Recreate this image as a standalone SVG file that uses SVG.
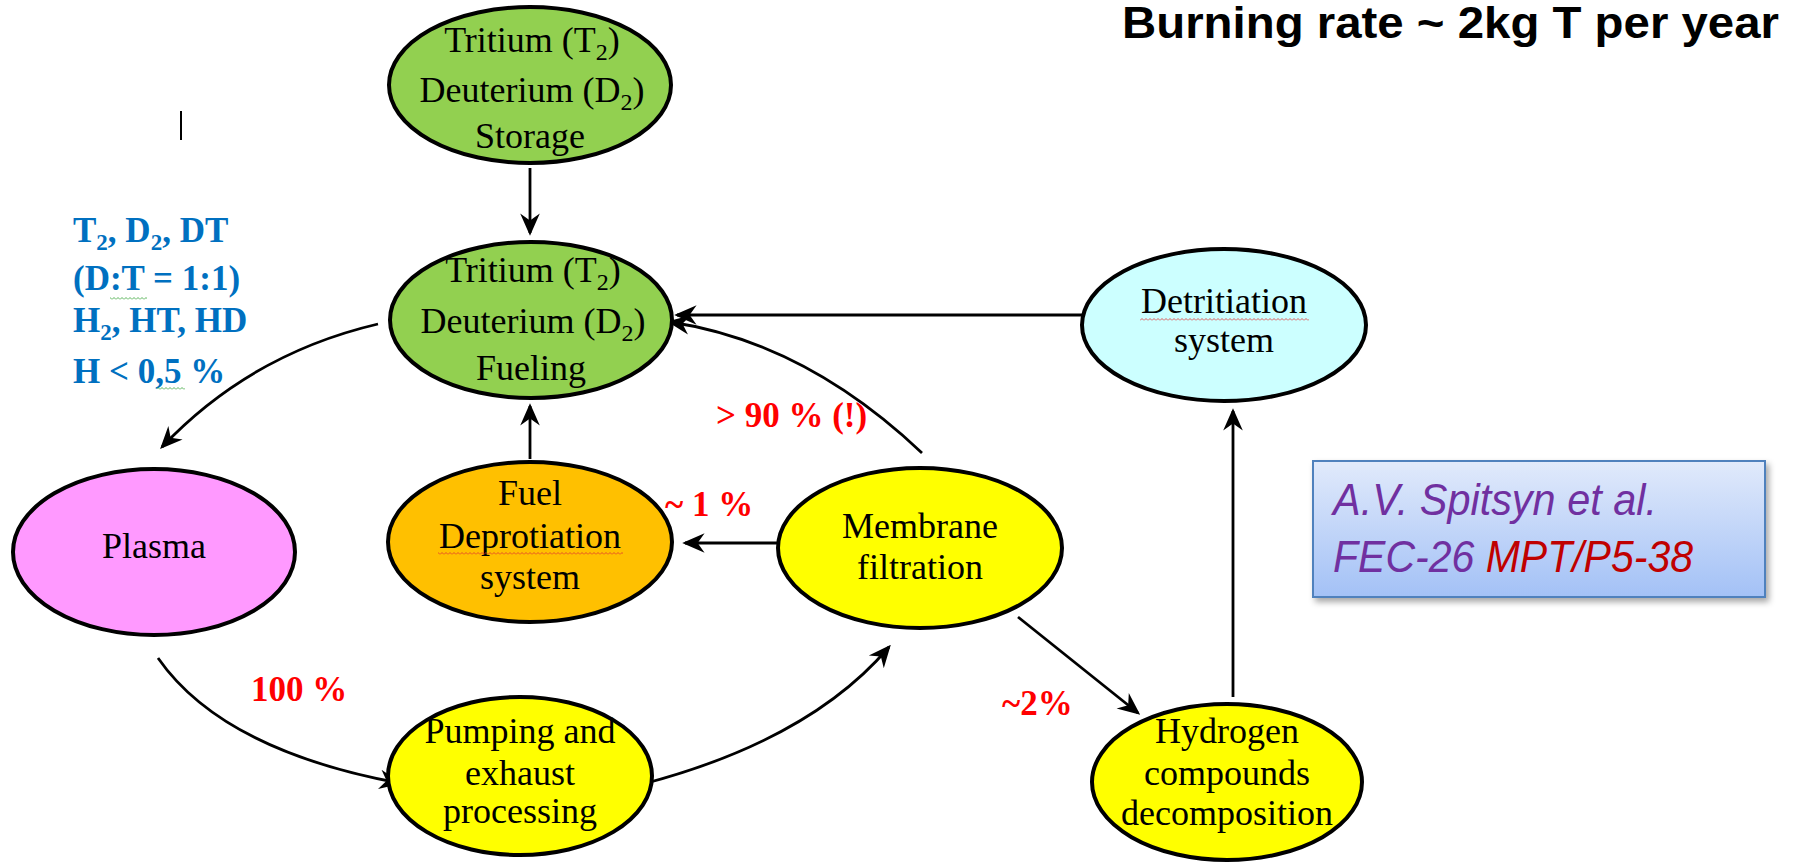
<svg xmlns="http://www.w3.org/2000/svg" width="1803" height="865" viewBox="0 0 1803 865">
<style>
.node{stroke:#000;stroke-width:4}
.t{font-family:"Liberation Serif","Times New Roman",serif;font-size:36px;fill:#000;text-anchor:middle}
.sub{font-size:24px}
.red{font-family:"Liberation Serif","Times New Roman",serif;font-size:35px;font-weight:bold;fill:#FF0000}
.blue{font-family:"Liberation Serif","Times New Roman",serif;font-size:35px;font-weight:bold;fill:#0070C0}
.conn{fill:none;stroke:#000;stroke-width:2.8;marker-end:url(#arr)}
</style>
<defs>
<marker id="arr" markerWidth="8" markerHeight="8" refX="7" refY="4" orient="auto" markerUnits="strokeWidth" viewBox="0 0 8 8">
<path d="M0,0.5 L8,4 L0,7.5 L2.5,4 Z" fill="#000"/>
</marker>
<linearGradient id="boxg" x1="0" y1="0" x2="0" y2="1">
<stop offset="0" stop-color="#E1EAFB"/>
<stop offset="1" stop-color="#A3C1F6"/>
</linearGradient>
<filter id="sh" x="-5%" y="-10%" width="115%" height="130%">
<feDropShadow dx="3" dy="4" stdDeviation="3" flood-color="#000" flood-opacity="0.35"/>
</filter>
<pattern id="wr" width="4" height="3" patternUnits="userSpaceOnUse"><path d="M0,2.5 L2,0.5 L4,2.5" fill="none" stroke="#E03030" stroke-width="0.8"/></pattern>
<pattern id="wg" width="4" height="3" patternUnits="userSpaceOnUse"><path d="M0,2.5 L2,0.5 L4,2.5" fill="none" stroke="#30A030" stroke-width="0.8"/></pattern>
</defs>
<rect width="1803" height="865" fill="#fff"/>

<g id="title">
<text x="1779" y="38" font-family="'Liberation Sans',Arial,sans-serif" font-size="45" font-weight="bold" text-anchor="end" textLength="657" lengthAdjust="spacingAndGlyphs">Burning rate ~ 2kg T per year</text>
</g>

<g id="mark"><line x1="181" y1="111" x2="181" y2="140" stroke="#000" stroke-width="2"/></g>

<g id="gas-list">
<text class="blue" x="73" y="242">T<tspan font-size="23" dy="8">2</tspan><tspan dy="-8">, D</tspan><tspan font-size="23" dy="8">2</tspan><tspan dy="-8">, DT</tspan></text>
<text class="blue" x="73" y="290">(D:T = 1:1)</text>
<text class="blue" x="73" y="332">H<tspan font-size="23" dy="8">2</tspan><tspan dy="-8">, HT, HD</tspan></text>
<text class="blue" x="73" y="383">H &lt; 0,5 %</text>
<rect x="110" y="297" width="37" height="3" fill="url(#wg)"/>
<rect x="157" y="387" width="28" height="3" fill="url(#wg)"/>
</g>

<g id="connectors">
<path class="conn" d="M530,168 L530,233"/>
<path class="conn" d="M378,324 Q250,354 162,447"/>
<path class="conn" d="M530,459 L530,406"/>
<path class="conn" d="M777,543 L685,543"/>
<path class="conn" d="M922,453 Q805,342 670,322"/>
<path class="conn" d="M1083,315 L677,315"/>
<path class="conn" d="M1233,697 L1233,411"/>
<path class="conn" d="M1018,617 L1138,713"/>
<path class="conn" d="M158,658 Q222,750 399,783"/>
<path class="conn" d="M643,784 Q810,740 889,647"/>
</g>

<g id="labels">
<text class="red" x="716" y="427">&gt; 90 % (!)</text>
<text class="red" x="665" y="516">~ 1 %</text>
<text class="red" x="1002" y="715">~2%</text>
<text class="red" x="251" y="701">100 %</text>
</g>

<g id="storage">
<ellipse class="node" cx="530" cy="85" rx="141" ry="78" fill="#92D050"/>
<text class="t" x="532" y="52">Tritium (T<tspan class="sub" dy="8">2</tspan><tspan dy="-8">)</tspan></text>
<text class="t" x="532" y="102">Deuterium (D<tspan class="sub" dy="8">2</tspan><tspan dy="-8">)</tspan></text>
<text class="t" x="530" y="148">Storage</text>
</g>

<g id="fueling">
<ellipse class="node" cx="531" cy="320" rx="141" ry="78" fill="#92D050"/>
<text class="t" x="533" y="282">Tritium (T<tspan class="sub" dy="8">2</tspan><tspan dy="-8">)</tspan></text>
<text class="t" x="533" y="333">Deuterium (D<tspan class="sub" dy="8">2</tspan><tspan dy="-8">)</tspan></text>
<text class="t" x="531" y="380">Fueling</text>
</g>

<g id="plasma">
<ellipse class="node" cx="154" cy="552" rx="141" ry="83" fill="#FF99FF"/>
<text class="t" x="154" y="558">Plasma</text>
</g>

<g id="deprotiation">
<ellipse class="node" cx="530" cy="542" rx="142" ry="80" fill="#FFC000"/>
<text class="t" x="530" y="505">Fuel</text>
<text class="t" x="530" y="548">Deprotiation</text>
<text class="t" x="530" y="589">system</text>
<rect x="438" y="552" width="185" height="3" fill="url(#wr)"/>
</g>

<g id="membrane">
<ellipse class="node" cx="920" cy="548" rx="142" ry="80" fill="#FFFF00"/>
<text class="t" x="920" y="538">Membrane</text>
<text class="t" x="920" y="579">filtration</text>
</g>

<g id="pumping">
<ellipse class="node" cx="520" cy="776" rx="132" ry="79" fill="#FFFF00"/>
<text class="t" x="520" y="743">Pumping  and</text>
<text class="t" x="520" y="785">exhaust</text>
<text class="t" x="520" y="823">processing</text>
</g>

<g id="detritiation">
<ellipse class="node" cx="1224" cy="325" rx="142" ry="76" fill="#CCFFFF"/>
<text class="t" x="1224" y="313">Detritiation</text>
<text class="t" x="1224" y="352">system</text>
<rect x="1140" y="318" width="169" height="3" fill="url(#wr)"/>
</g>

<g id="hydrogen">
<ellipse class="node" cx="1227" cy="782" rx="135" ry="78" fill="#FFFF00"/>
<text class="t" x="1227" y="743">Hydrogen</text>
<text class="t" x="1227" y="785">compounds</text>
<text class="t" x="1227" y="825">decomposition</text>
</g>

<g id="reference-box">
<rect x="1313" y="461" width="452" height="136" fill="url(#boxg)" stroke="#4F81BD" stroke-width="2" filter="url(#sh)"/>
<text x="1333" y="515" font-family="'Liberation Sans',Arial,sans-serif" font-size="44" font-style="italic" fill="#7030A0" textLength="324" lengthAdjust="spacingAndGlyphs">A.V. Spitsyn et al.</text>
<text x="1333" y="572" font-family="'Liberation Sans',Arial,sans-serif" font-size="44" font-style="italic" fill="#7030A0" textLength="360" lengthAdjust="spacingAndGlyphs">FEC-26 <tspan fill="#C00000">MPT/P5-38</tspan></text>
</g>
</svg>
